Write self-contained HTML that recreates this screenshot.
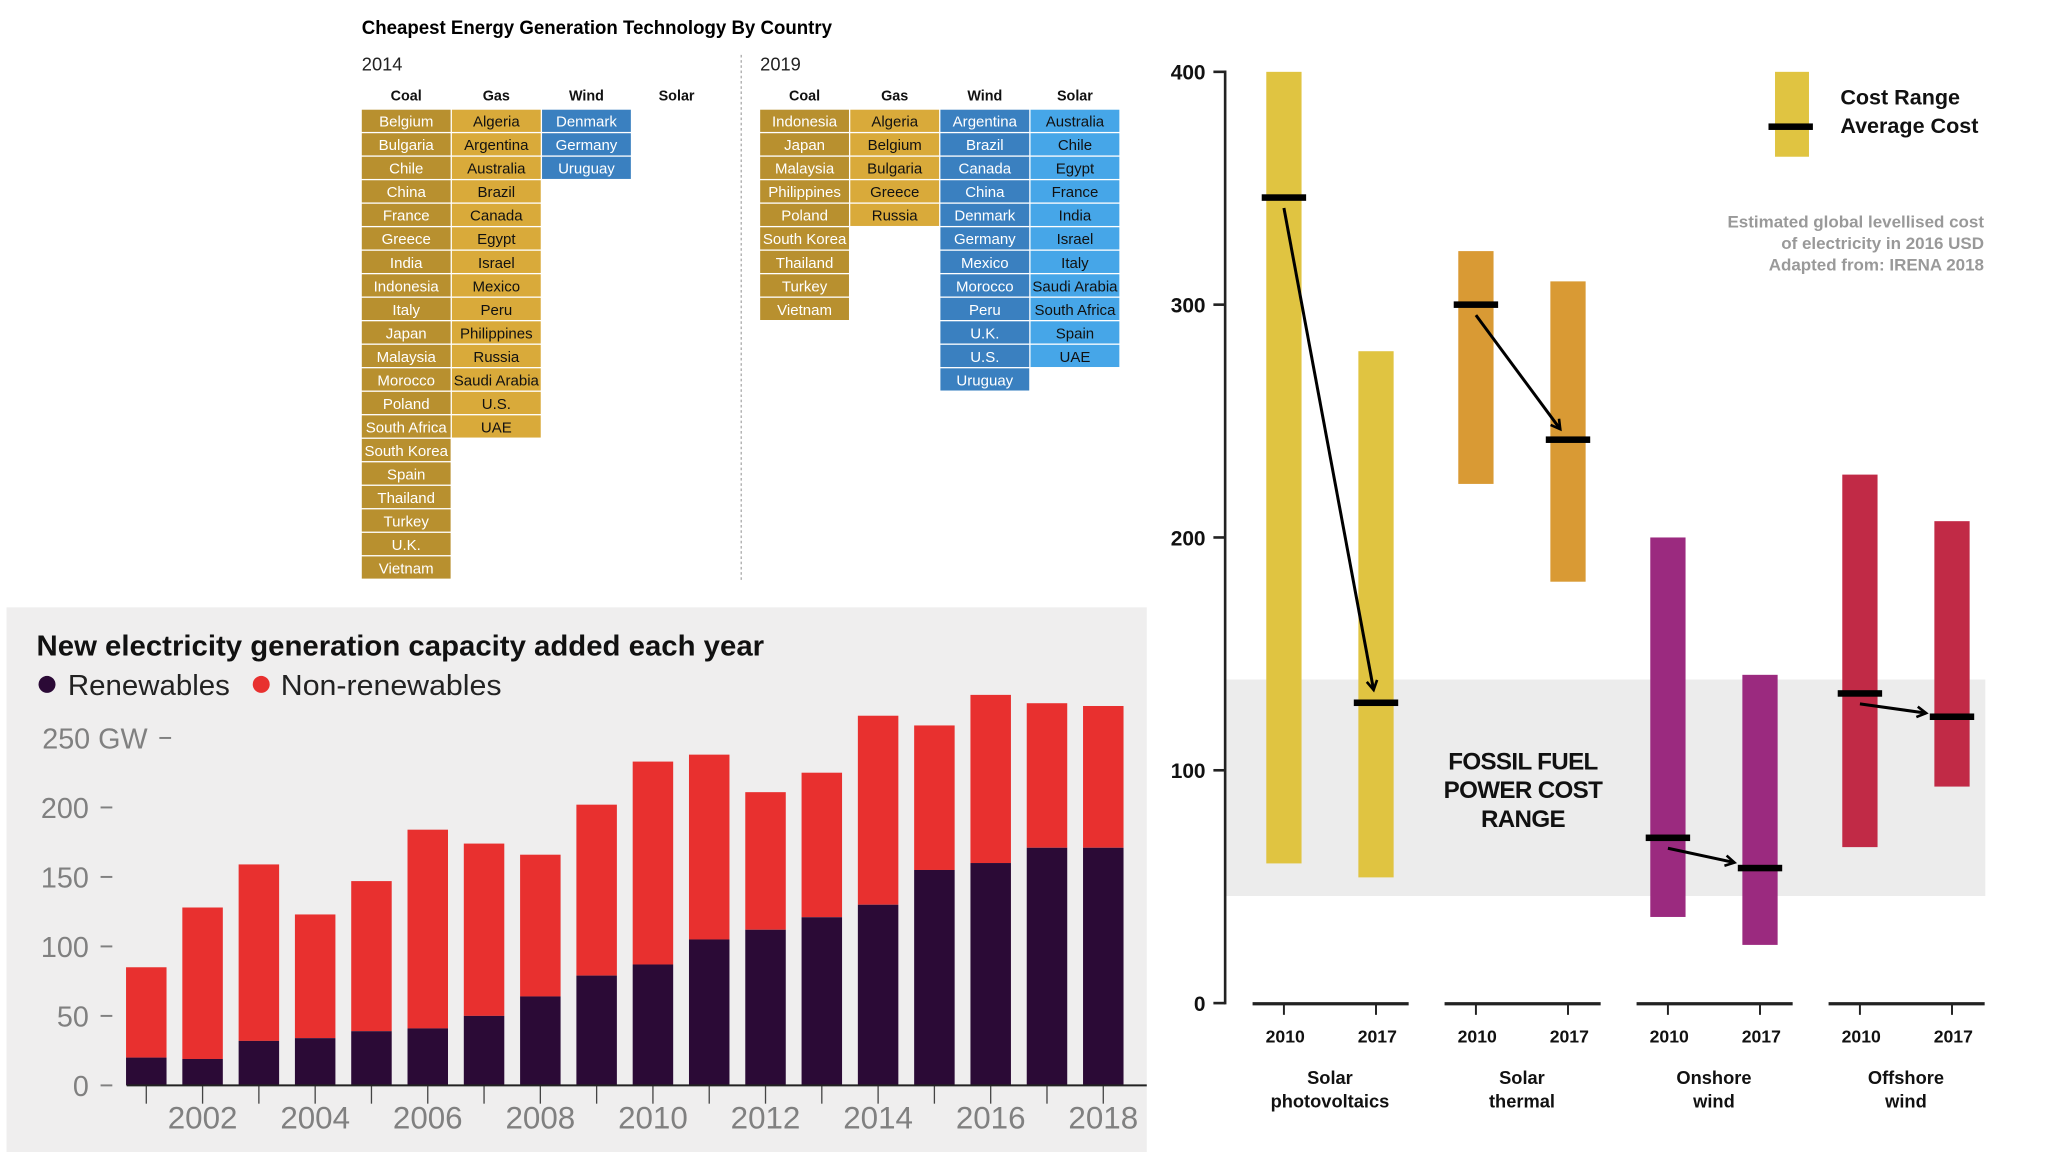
<!DOCTYPE html>
<html><head><meta charset="utf-8">
<style>
html,body{margin:0;padding:0;background:#fff;}
svg{display:block;}
text{font-family:"Liberation Sans",sans-serif;}
.nar{font-family:"Liberation Sans Narrow","Liberation Sans",sans-serif;}
</style></head>
<body>
<svg id="root" width="2048" height="1152" viewBox="0 0 1568 882" xmlns="http://www.w3.org/2000/svg">
<g id="tables">
  <text x="277" y="26" font-size="14.5" font-weight="bold" textLength="360" lengthAdjust="spacingAndGlyphs" class="nar">Cheapest Energy Generation Technology By Country</text>
  <text x="277" y="54" font-size="14" fill="#222">2014</text>
  <text x="582" y="54" font-size="14" fill="#222">2019</text>
  <line x1="567.5" y1="42" x2="567.5" y2="446" stroke="#aaa" stroke-width="1" stroke-dasharray="2,2"/>
</g>
<g id="bars">
  <rect x="5" y="465" width="873" height="417" fill="#efeeee"/>
  <text x="28" y="502" font-size="22" font-weight="bold" class="nar" textLength="557" lengthAdjust="spacingAndGlyphs" fill="#111">New electricity generation capacity added each year</text>
  <circle cx="36" cy="524" r="6.5" fill="#2b0a36"/>
  <text x="52" y="532" font-size="22" class="nar" textLength="124" lengthAdjust="spacingAndGlyphs" fill="#222">Renewables</text>
  <circle cx="200" cy="524" r="6.5" fill="#e8302f"/>
  <text x="215" y="532" font-size="22" class="nar" textLength="169" lengthAdjust="spacingAndGlyphs" fill="#222">Non-renewables</text>
</g>
<g id="cost"></g>
</svg>
<script>
const NS='http://www.w3.org/2000/svg';
function mk(tag,attrs,parent,txt){const e=document.createElementNS(NS,tag);for(const k in attrs)e.setAttribute(k,attrs[k]);if(txt!==undefined)e.textContent=txt;parent.appendChild(e);return e;}

/* ---------- Tables data ---------- */
const techCols=['Coal','Gas','Wind','Solar'];
const coal2014=['Belgium','Bulgaria','Chile','China','France','Greece','India','Indonesia','Italy','Japan','Malaysia','Morocco','Poland','South Africa','South Korea','Spain','Thailand','Turkey','U.K.','Vietnam'];
const gas2014=['Algeria','Argentina','Australia','Brazil','Canada','Egypt','Israel','Mexico','Peru','Philippines','Russia','Saudi Arabia','U.S.','UAE'];
const wind2014=['Denmark','Germany','Uruguay'];
const solar2014=[];
const coal2019=['Indonesia','Japan','Malaysia','Philippines','Poland','South Korea','Thailand','Turkey','Vietnam'];
const gas2019=['Algeria','Belgium','Bulgaria','Greece','Russia'];
const wind2019=['Argentina','Brazil','Canada','China','Denmark','Germany','Mexico','Morocco','Peru','U.K.','U.S.','Uruguay'];
const solar2019=['Australia','Chile','Egypt','France','India','Israel','Italy','Saudi Arabia','South Africa','Spain','UAE'];
const cellFill=['#b8902f','#d9aa3a','#3a80c0','#46a6e8'];
const cellText=['#fff','#111','#fff','#111'];
const tg=document.getElementById('tables');
function drawTable(x0,lists,yr){
  lists.forEach((list,ci)=>{
    const cx=x0+ci*69;
    const h=mk('text',{x:cx+34,y:77,'font-size':11,'font-weight':'bold','text-anchor':'middle',fill:'#111'},tg,techCols[ci]);
    
    
    list.forEach((name,ri)=>{
      const r=mk('rect',{x:cx,y:84+ri*18,width:68,height:17,fill:cellFill[ci]},tg);
      
      
      const t=mk('text',{x:cx+34,y:84+ri*18+13,'font-size':11.5,'text-anchor':'middle',fill:cellText[ci],class:'nar'},tg,name);
      
      
    });
  });
}
drawTable(277,[coal2014,gas2014,wind2014,solar2014],'2014');
drawTable(582,[coal2019,gas2019,wind2019,solar2019],'2019');

/* ---------- Capacity bar chart ---------- */
const years=[2001,2002,2003,2004,2005,2006,2007,2008,2009,2010,2011,2012,2013,2014,2015,2016,2017,2018];
const renewables=[20,19,32,34,39,41,50,64,79,87,105,112,121,130,155,160,171,171];
const totals=[85,128,159,123,147,184,174,166,202,233,238,211,225,266,259,281,275,273];
const yTicks=[0,50,100,150,200,250];
const yearLabels=[2002,2004,2006,2008,2010,2012,2014,2016,2018];
const bg=document.getElementById('bars');
const yB=v=>831-v*1.064;
const xB=yr=>112+(yr-2001)*43.1;
yTicks.forEach(v=>{
  const y=yB(v);
  const lab=v===250?'250 GW':String(v);
  const t=mk('text',{x:v===250?113:68,y:y+8,'font-size':22,'text-anchor':'end',fill:'#808080',class:'nar'},bg,lab);
  
  
  const d=mk('line',{x1:v===250?122:77,x2:v===250?131:86,y1:y,y2:y,stroke:'#808080','stroke-width':1.5},bg);
  
  
});
years.forEach((yr,i)=>{
  const x=xB(yr)-15.5;
  const r1=mk('rect',{x:x,y:yB(totals[i]),width:31,height:yB(renewables[i])-yB(totals[i]),fill:'#e8302f'},bg);
  
  
  const r2=mk('rect',{x:x,y:yB(renewables[i]),width:31,height:831-yB(renewables[i]),fill:'#2b0a36'},bg);
  
  
  const tk=mk('line',{x1:xB(yr),x2:xB(yr),y1:831,y2:845,stroke:'#444','stroke-width':1},bg);
  
  
});
const ax=mk('line',{x1:97,x2:878,y1:831,y2:831,stroke:'#222','stroke-width':1.5},bg);


yearLabels.forEach(yr=>{
  const t=mk('text',{x:xB(yr),y:864,'font-size':24,'text-anchor':'middle',fill:'#808080',class:'nar'},bg,String(yr));
  
  
});

/* ---------- Cost range chart ---------- */
const techNames=[['Solar','photovoltaics'],['Solar','thermal'],['Onshore','wind'],['Offshore','wind']];
const periodLabels=['2010','2017'];
const costLow=[[60,54],[223,181],[37,25],[67,93]];
const costHigh=[[400,280],[323,310],[200,141],[227,207]];
const costAvg=[[346,129],[300,242],[71,58],[133,123]];
const costColors=['#e0c441','#d99a34','#9b2a7f','#c12a46'];
const fossilRange=[46,139];
const costTicks=[0,100,200,300,400];
const cg=document.getElementById('cost');
const yC=v=>768-v*1.7825;
const xC=(g,p)=>983+g*147+p*70.5;
const band=mk('rect',{x:938,y:yC(fossilRange[1]),width:582,height:yC(fossilRange[0])-yC(fossilRange[1]),fill:'#ececec'},cg);


['FOSSIL FUEL','POWER COST','RANGE'].forEach((s,i)=>{
  const t=mk('text',{x:1166,y:589+i*22,'font-size':18.5,'font-weight':'bold','text-anchor':'middle',fill:'#111','letter-spacing':'-0.5'},cg,s);
  
  
});
const yax=mk('line',{x1:938,x2:938,y1:54,y2:769,stroke:'#222','stroke-width':2},cg);


costTicks.forEach(v=>{
  const l=mk('line',{x1:929,x2:938,y1:yC(v),y2:yC(v),stroke:'#222','stroke-width':2},cg);
  
  
  const t=mk('text',{x:923,y:yC(v)+6,'font-size':16,'font-weight':'bold','text-anchor':'end',fill:'#111'},cg,String(v));
  
  
});
const defs=mk('defs',{},cg);
const mark=mk('marker',{id:'ah',markerWidth:10,markerHeight:10,refX:8,refY:5,orient:'auto',markerUnits:'userSpaceOnUse'},defs);
mk('path',{d:'M1,1 L8,5 L1,9',fill:'none',stroke:'#000','stroke-width':2},mark);
techNames.forEach((nm,g)=>{
  const gl=mk('line',{x1:xC(g,0)-24,x2:xC(g,1)+25,y1:768.5,y2:768.5,stroke:'#222','stroke-width':2.5},cg);
  
  
  [0,1].forEach(p=>{
    const x=xC(g,p);
    const r=mk('rect',{x:x-13.5,y:yC(costHigh[g][p]),width:27,height:yC(costLow[g][p])-yC(costHigh[g][p]),fill:costColors[g]},cg);
    
    
    const tk=mk('line',{x1:x,x2:x,y1:768,y2:777,stroke:'#222','stroke-width':1.5},cg);
    
    
    const t=mk('text',{x:x+1,y:798,'font-size':13.5,'font-weight':'bold','text-anchor':'middle',fill:'#111'},cg,periodLabels[p]);
    
    
  });
  nm.forEach((s,i)=>{
    const t=mk('text',{x:(xC(g,0)+xC(g,1))/2,y:830+i*18,'font-size':14,'font-weight':'bold','text-anchor':'middle',fill:'#111'},cg,s);
    
    
  });
});
techNames.forEach((nm,g)=>{
  // arrow
  const x1=xC(g,0),y1=yC(costAvg[g][0])+8,x2=xC(g,1),y2=yC(costAvg[g][1]);
  let dx=x2-x1,dy=y2-y1;const L=Math.hypot(dx,dy);
  const steep=Math.abs(dy)>Math.abs(dx);
  const stop=steep?10:20;
  const ex=x2-dx/L*stop, ey=y2-dy/L*stop;
  const a=mk('line',{x1:x1,y1:y1,x2:ex,y2:ey,stroke:'#000','stroke-width':2.3,'marker-end':'url(#ah)'},cg);
  
  
  [0,1].forEach(p=>{
    const x=xC(g,p);
    const m=mk('rect',{x:x-17,y:yC(costAvg[g][p])-2.5,width:34,height:5,fill:'#000'},cg);
    
    
  });
});
// legend
const lb=mk('rect',{x:1359,y:55,width:26,height:65,fill:'#e0c441'},cg);


const lm=mk('rect',{x:1354,y:94.5,width:34,height:5,fill:'#000'},cg);


const lt1=mk('text',{x:1409,y:80,'font-size':16.5,'font-weight':'bold',fill:'#111'},cg,'Cost Range');


const lt2=mk('text',{x:1409,y:102,'font-size':16.5,'font-weight':'bold',fill:'#111'},cg,'Average Cost');


['Estimated global levellised cost','of electricity in 2016 USD','Adapted from: IRENA 2018'].forEach((s,i)=>{
  const t=mk('text',{x:1519,y:174+i*16.5,'font-size':13,'text-anchor':'end',fill:'#999','font-weight':'bold'},cg,s);
  
  
});
</script>
</body></html>
